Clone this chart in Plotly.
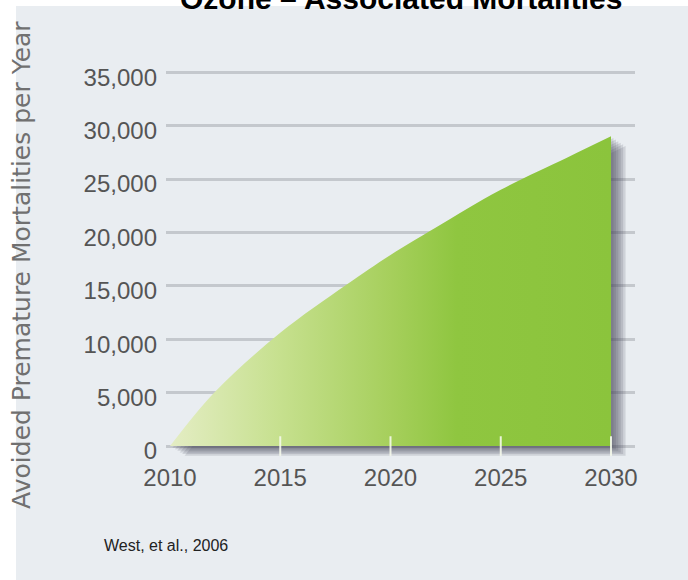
import plotly.graph_objects as go

# ---- data ----
years = [2010, 2012, 2015, 2018, 2020, 2022, 2025, 2028, 2030]
avoided_mortalities = [0, 5000, 10600, 15100, 17900, 20400, 24000, 27000, 29000]
x_tick_vals = [2010, 2015, 2020, 2025, 2030]
y_tick_vals = [0, 5000, 10000, 15000, 20000, 25000, 30000, 35000]
y_tick_text = ["0", "5,000", "10,000", "15,000", "20,000", "25,000", "30,000", "35,000"]
title_text = "Ozone – Associated Mortalities"
y_title_text = "Avoided Premature Mortalities per Year"
source_text = "West, et al., 2006"

fig = go.Figure()

# closed polygon built from the data (for the shadow)
poly_x = years + [years[-1], years[0]]
poly_y = avoided_mortalities + [0, 0]

# soft drop shadow: several offset translucent copies of the area
for k in range(1, 7):
    fig.add_trace(go.Scatter(
        x=[v + 0.11 * k for v in poly_x],
        y=[v - 150 * k for v in poly_y],
        mode="lines", line=dict(width=0),
        fill="toself", fillcolor="rgba(70,70,85,0.16)",
        hoverinfo="skip", showlegend=False))

# main gradient area
fig.add_trace(go.Scatter(
    x=years, y=avoided_mortalities,
    mode="lines", line=dict(width=0, shape="spline", smoothing=1.0),
    fill="tozeroy",
    fillgradient=dict(type="horizontal",
                      colorscale=[[0.0, "#e4edc4"], [0.25, "#c6e08e"],
                                  [0.5, "#a6cf5c"], [0.65, "#8fc640"],
                                  [1.0, "#8bc43c"]]),
    hoverinfo="skip", showlegend=False))

# small light tick marks on the area bottom
fig.add_trace(go.Scatter(
    x=x_tick_vals[1:], y=[0] * (len(x_tick_vals) - 1),
    mode="markers",
    marker=dict(symbol="line-ns", size=14,
                line=dict(color="rgba(245,250,235,0.9)", width=2)),
    hoverinfo="skip", showlegend=False))

# plot area: top at 35,400 -> y=68px, bottom at -1,400 -> y=461px
fig.update_layout(
    width=688, height=580,
    margin=dict(l=166, r=53, t=68, b=119),
    paper_bgcolor="white",
    plot_bgcolor="rgba(0,0,0,0)",
    showlegend=False,
    font=dict(family="Arial, Liberation Sans, sans-serif", color="#505050"),
    shapes=[dict(type="rect", xref="paper", yref="paper",
                 x0=-0.3198, x1=1.12, y0=-0.32, y1=1.158,
                 fillcolor="#e9edf1", line=dict(width=0), layer="below")],
    annotations=[
        dict(text="<b>" + title_text + "</b>", xref="paper", yref="paper",
             x=0.5, y=1.13, xanchor="center", yanchor="bottom",
             showarrow=False, font=dict(size=30, color="black",
                                        family="Arial, Liberation Sans, sans-serif")),
        dict(text=y_title_text, xref="paper", yref="paper",
             x=-0.307, y=0.499, xanchor="center", yanchor="middle",
             textangle=-90, showarrow=False,
             font=dict(size=25, color="#707070",
                       family="DejaVu Sans, sans-serif")),
        dict(text=source_text, xref="paper", yref="paper",
             x=0.0, y=-0.214, xanchor="center", yanchor="middle",
             showarrow=False,
             font=dict(size=16, color="#222222",
                       family="Arial, Liberation Sans, sans-serif")),
    ],
)

fig.update_xaxes(
    range=[2009.819, 2031.088],
    tickvals=x_tick_vals, ticktext=[str(v) for v in x_tick_vals],
    showgrid=False, zeroline=False, showline=False,
    ticks="", ticklabelstandoff=0,
    tickfont=dict(size=24, color="#555555"))

fig.update_yaxes(
    range=[-1400, 35400],
    tickvals=y_tick_vals, ticktext=y_tick_text,
    showgrid=True, gridcolor="#c4c8cd", gridwidth=3,
    zeroline=False, showline=False,
    ticks="", ticklabelstandoff=8, ticklabelshift=5,
    tickfont=dict(size=24, color="#555555"))

fig.write_html("out.html", config={"displayModeBar": False},
               post_script="document.body.style.margin='0';")
